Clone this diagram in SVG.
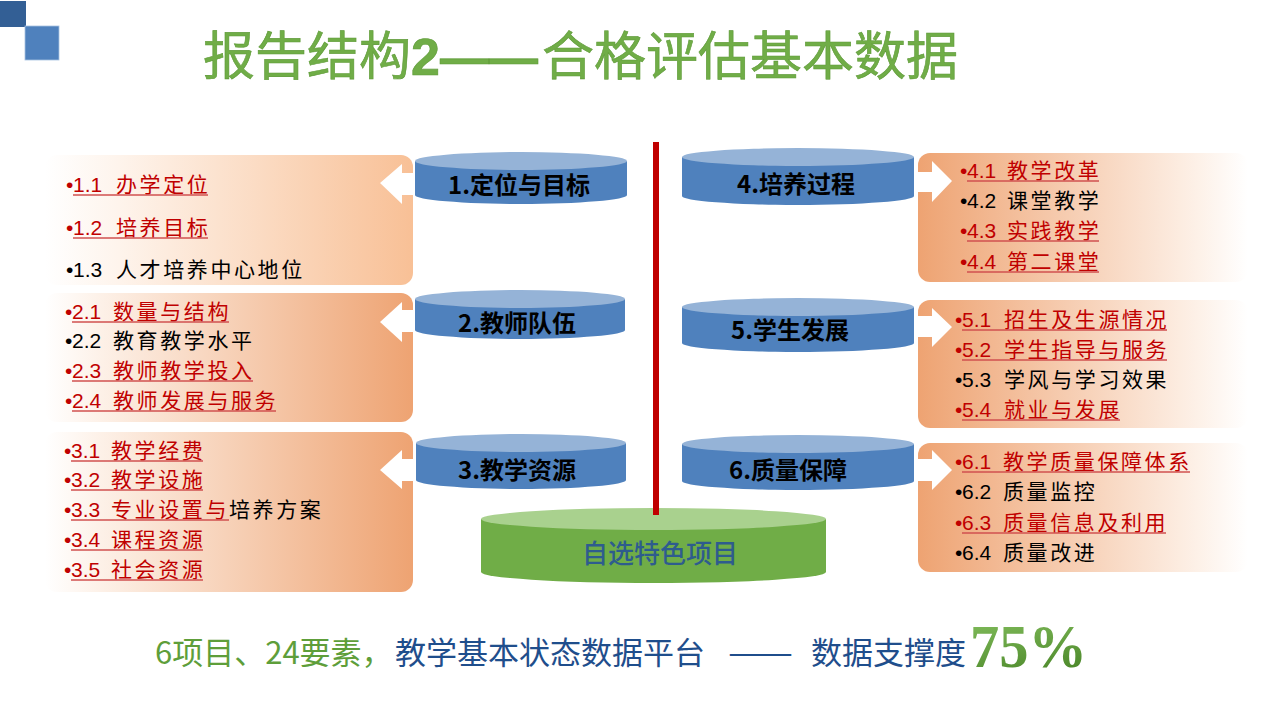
<svg xmlns="http://www.w3.org/2000/svg" width="1280" height="719" viewBox="0 0 1280 719">
<defs>
<linearGradient id="gL1" x1="0" y1="0" x2="1" y2="0"><stop offset="0" stop-color="#FFFFFF"/><stop offset="0.2" stop-color="#FEF4EC"/><stop offset="1" stop-color="#F8C096"/></linearGradient>
<linearGradient id="gL2" x1="0" y1="0" x2="1" y2="0"><stop offset="0" stop-color="#FFFFFF"/><stop offset="0.15" stop-color="#FDF1E8"/><stop offset="1" stop-color="#EEA372"/></linearGradient>
<linearGradient id="gR" x1="0" y1="0" x2="1" y2="0"><stop offset="0" stop-color="#EEA372"/><stop offset="0.85" stop-color="#FDF1E8"/><stop offset="1" stop-color="#FFFFFF"/></linearGradient>
<linearGradient id="g75" x1="0" y1="0" x2="0.3" y2="1"><stop offset="0" stop-color="#86C160"/><stop offset="1" stop-color="#4E8A2C"/></linearGradient>
</defs>
<style>
.t{font-family:"Liberation Sans","Noto Sans CJK SC",sans-serif;font-size:21px}
.cj{letter-spacing:2.6px}
.r{fill:#C00000}
.k{fill:#000000}
.ul{stroke:#D0504F;stroke-width:1.5}
.cbody{fill:#4F81BD}
.ctop{fill:#95B3D7}
.ct{font-family:"Noto Sans CJK SC",sans-serif;font-size:24px;font-weight:bold;fill:#000;text-anchor:middle}
.arw{fill:#FFFFFF}
.bt{font-family:"Noto Sans CJK SC",sans-serif;font-size:31px;font-weight:normal}
</style>
<rect width="1280" height="719" fill="#FFFFFF"/>
<g id="deco">
<rect x="0" y="1" width="26" height="26" fill="#335F95"/>
<rect x="25" y="26" width="34" height="34" fill="#4F81BD" stroke="#A9C2E2" stroke-width="0.8"/>
</g>
<g id="title">
<text x="203" y="75" font-family="Noto Sans CJK SC, sans-serif" font-size="52" fill="#70AD47" stroke="#5E9A38" stroke-width="0.6"><tspan>报告结构</tspan><tspan x="411" font-family="Liberation Sans, sans-serif" font-weight="bold">2</tspan><tspan x="440" font-family="Liberation Sans, sans-serif" font-weight="bold" textLength="98" lengthAdjust="spacingAndGlyphs">——</tspan><tspan x="542">合格评估基本数据</tspan></text>
</g>
<g id="panel-1">
<rect x="45" y="155" width="368" height="130" rx="12" fill="url(#gL1)"/>
<text class="t r" y="192"><tspan x="66">•</tspan><tspan x="73">1.1</tspan><tspan x="116" class="cj">办学定位</tspan></text>
<line class="ul" x1="73" y1="195" x2="208" y2="195"/>
<text class="t r" y="235"><tspan x="66">•</tspan><tspan x="73">1.2</tspan><tspan x="116" class="cj">培养目标</tspan></text>
<line class="ul" x1="73" y1="238" x2="208" y2="238"/>
<text class="t k" y="277"><tspan x="66">•</tspan><tspan x="73">1.3</tspan><tspan x="116" class="cj">人才培养中心地位</tspan></text>
</g>
<g id="panel-2">
<rect x="45" y="293" width="368" height="129" rx="12" fill="url(#gL2)"/>
<text class="t r" y="319"><tspan x="65">•</tspan><tspan x="72">2.1</tspan><tspan x="113" class="cj">数量与结构</tspan></text>
<line class="ul" x1="72" y1="322" x2="229" y2="322"/>
<text class="t k" y="348"><tspan x="65">•</tspan><tspan x="72">2.2</tspan><tspan x="113" class="cj">教育教学水平</tspan></text>
<text class="t r" y="378"><tspan x="65">•</tspan><tspan x="72">2.3</tspan><tspan x="113" class="cj">教师教学投入</tspan></text>
<line class="ul" x1="72" y1="381" x2="253" y2="381"/>
<text class="t r" y="408"><tspan x="65">•</tspan><tspan x="72">2.4</tspan><tspan x="113" class="cj">教师发展与服务</tspan></text>
<line class="ul" x1="72" y1="411" x2="276" y2="411"/>
</g>
<g id="panel-3">
<rect x="45" y="432" width="368" height="160" rx="12" fill="url(#gL2)"/>
<text class="t r" y="458"><tspan x="64">•</tspan><tspan x="71">3.1</tspan><tspan x="111" class="cj">教学经费</tspan></text>
<line class="ul" x1="71" y1="461" x2="203" y2="461"/>
<text class="t r" y="487"><tspan x="64">•</tspan><tspan x="71">3.2</tspan><tspan x="111" class="cj">教学设施</tspan></text>
<line class="ul" x1="71" y1="490" x2="203" y2="490"/>
<text class="t r" y="517"><tspan x="64">•</tspan><tspan x="71">3.3</tspan><tspan x="111" class="cj">专业设置与</tspan><tspan class="k cj">培养方案</tspan></text>
<line class="ul" x1="71" y1="520" x2="229" y2="520"/>
<text class="t r" y="547"><tspan x="64">•</tspan><tspan x="71">3.4</tspan><tspan x="111" class="cj">课程资源</tspan></text>
<line class="ul" x1="71" y1="550" x2="203" y2="550"/>
<text class="t r" y="577"><tspan x="64">•</tspan><tspan x="71">3.5</tspan><tspan x="111" class="cj">社会资源</tspan></text>
<line class="ul" x1="71" y1="580" x2="203" y2="580"/>
</g>
<g id="panel-4">
<rect x="918" y="153" width="330" height="129" rx="12" fill="url(#gR)"/>
<text class="t r" y="178"><tspan x="960">•</tspan><tspan x="967">4.1</tspan><tspan x="1007" class="cj">教学改革</tspan></text>
<line class="ul" x1="967" y1="181" x2="1099" y2="181"/>
<text class="t k" y="208"><tspan x="960">•</tspan><tspan x="967">4.2</tspan><tspan x="1007" class="cj">课堂教学</tspan></text>
<text class="t r" y="238"><tspan x="960">•</tspan><tspan x="967">4.3</tspan><tspan x="1007" class="cj">实践教学</tspan></text>
<line class="ul" x1="967" y1="241" x2="1099" y2="241"/>
<text class="t r" y="269"><tspan x="960">•</tspan><tspan x="967">4.4</tspan><tspan x="1007" class="cj">第二课堂</tspan></text>
<line class="ul" x1="967" y1="272" x2="1099" y2="272"/>
</g>
<g id="panel-5">
<rect x="918" y="300" width="330" height="128" rx="12" fill="url(#gR)"/>
<text class="t r" y="327"><tspan x="955">•</tspan><tspan x="962">5.1</tspan><tspan x="1004" class="cj">招生及生源情况</tspan></text>
<line class="ul" x1="962" y1="330" x2="1167" y2="330"/>
<text class="t r" y="357"><tspan x="955">•</tspan><tspan x="962">5.2</tspan><tspan x="1004" class="cj">学生指导与服务</tspan></text>
<line class="ul" x1="962" y1="360" x2="1167" y2="360"/>
<text class="t k" y="387"><tspan x="955">•</tspan><tspan x="962">5.3</tspan><tspan x="1004" class="cj">学风与学习效果</tspan></text>
<text class="t r" y="417"><tspan x="955">•</tspan><tspan x="962">5.4</tspan><tspan x="1004" class="cj">就业与发展</tspan></text>
<line class="ul" x1="962" y1="420" x2="1120" y2="420"/>
</g>
<g id="panel-6">
<rect x="918" y="443" width="330" height="129" rx="12" fill="url(#gR)"/>
<text class="t r" y="469"><tspan x="955">•</tspan><tspan x="962">6.1</tspan><tspan x="1003" class="cj">教学质量保障体系</tspan></text>
<line class="ul" x1="962" y1="472" x2="1190" y2="472"/>
<text class="t k" y="499"><tspan x="955">•</tspan><tspan x="962">6.2</tspan><tspan x="1003" class="cj">质量监控</tspan></text>
<text class="t r" y="530"><tspan x="955">•</tspan><tspan x="962">6.3</tspan><tspan x="1003" class="cj">质量信息及利用</tspan></text>
<line class="ul" x1="962" y1="533" x2="1166" y2="533"/>
<text class="t k" y="560"><tspan x="955">•</tspan><tspan x="962">6.4</tspan><tspan x="1003" class="cj">质量改进</tspan></text>
</g>
<g id="cyl-1">
<path class="cbody" d="M415,161 L415,195 A106,9 0 0 0 627,195 L627,161 Z"/>
<ellipse class="ctop" cx="521" cy="161" rx="106" ry="9"/>
<text class="ct" x="519" y="194">1.定位与目标</text>
</g>
<g id="cyl-2">
<path class="cbody" d="M415,299 L415,330 A105,9 0 0 0 625,330 L625,299 Z"/>
<ellipse class="ctop" cx="520" cy="299" rx="105" ry="9"/>
<text class="ct" x="517" y="332">2.教师队伍</text>
</g>
<g id="cyl-3">
<path class="cbody" d="M416,443 L416,480 A105,9 0 0 0 626,480 L626,443 Z"/>
<ellipse class="ctop" cx="521" cy="443" rx="105" ry="9"/>
<text class="ct" x="517" y="479">3.教学资源</text>
</g>
<g id="cyl-4">
<path class="cbody" d="M682,157 L682,196 A116,9 0 0 0 914,196 L914,157 Z"/>
<ellipse class="ctop" cx="798" cy="157" rx="116" ry="9"/>
<text class="ct" x="796" y="193">4.培养过程</text>
</g>
<g id="cyl-5">
<path class="cbody" d="M682,307 L682,343 A116,9 0 0 0 914,343 L914,307 Z"/>
<ellipse class="ctop" cx="798" cy="307" rx="116" ry="9"/>
<text class="ct" x="790" y="339">5.学生发展</text>
</g>
<g id="cyl-6">
<path class="cbody" d="M682,444 L682,481 A116,9 0 0 0 914,481 L914,444 Z"/>
<ellipse class="ctop" cx="798" cy="444" rx="116" ry="9"/>
<text class="ct" x="788" y="479">6.质量保障</text>
</g>
<g id="cyl-center">
<path fill="#70AD47" d="M481,519 L481,572 A172.5,11 0 0 0 826,572 L826,519 Z"/>
<ellipse fill="#A9D18E" cx="653.5" cy="519" rx="172.5" ry="11"/>
<text x="660" y="563" font-family="Noto Sans CJK SC, sans-serif" font-size="26" font-weight="500" fill="#2E5C8E" text-anchor="middle">自选特色项目</text>
</g>
<g id="connectors">
<rect x="653" y="142" width="6" height="373" fill="#C00000"/>
<polygon class="arw" points="380,183 402,164 402,173 414,173 414,195 402,195 402,204"/>
<polygon class="arw" points="380,322 402,302 402,310 414,310 414,332 402,332 402,342"/>
<polygon class="arw" points="380,470 402,450 402,459 414,459 414,481 402,481 402,489"/>
<polygon class="arw" points="952,181 932,161 932,172 916,172 916,192 932,192 932,202"/>
<polygon class="arw" points="952,327 932,308 932,316 916,316 916,337 932,337 932,347"/>
<polygon class="arw" points="952,470 932,450 932,459 916,459 916,481 932,481 932,490"/>
</g>
<g id="footer">
<text class="bt" y="664"><tspan x="155" fill="#5E9E3A">6项目、24要素，</tspan><tspan x="395" fill="#1F4E8C">教学基本状态数据平台</tspan><tspan x="728" fill="#1F4E8C" textLength="65" lengthAdjust="spacingAndGlyphs">——</tspan><tspan x="811" fill="#1F4E8C">数据支撑度</tspan></text>
<text x="970" y="667" font-family="Liberation Serif, serif" font-size="62" font-weight="bold" fill="url(#g75)" textLength="117" lengthAdjust="spacingAndGlyphs">75%</text>
</g>
</svg>
